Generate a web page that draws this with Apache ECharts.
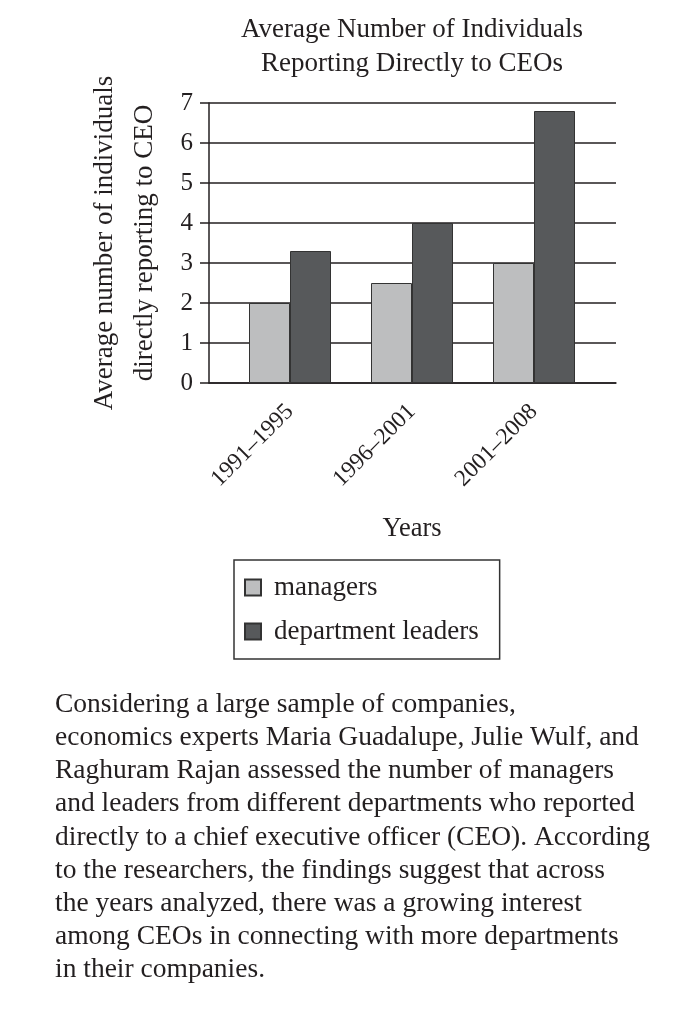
<!DOCTYPE html>
<html>
<head>
<meta charset="utf-8">
<script src="https://cdn.jsdelivr.net/npm/echarts@6/dist/echarts.min.js"></script>
<style>
  html, body { margin: 0; padding: 0; background: #fff; }
  #chart { width: 684px; height: 1024px; }
</style>
</head>
<body>
<div id="chart"></div>
<script>
const categories = ['1991\u20131995', '1996\u20132001', '2001\u20132008'];
const managers = [2, 2.5, 3];
const departmentLeaders = [3.3, 4, 6.8];
const yTicks = [0, 1, 2, 3, 4, 5, 6, 7];

const paragraph = [
  'Considering a large sample of companies,',
  'economics experts Maria Guadalupe, Julie Wulf, and',
  'Raghuram Rajan assessed the number of managers',
  'and leaders from different departments who reported',
  'directly to a chief executive officer (CEO). According',
  'to the researchers, the findings suggest that across',
  'the years analyzed, there was a growing interest',
  'among CEOs in connecting with more departments',
  'in their companies.'
];

const font = '"Liberation Serif", "DejaVu Serif", serif';
const ink = '#231f20';

const chart = echarts.init(document.getElementById('chart'));

chart.setOption({
  backgroundColor: '#fff',
  textStyle: { fontFamily: font, color: ink },
  title: {
    text: paragraph.join('\n'),
    left: 55,
    top: 688,
    padding: 0,
    textStyle: { fontFamily: font, fontSize: 27.5, fontWeight: 'normal', color: ink, lineHeight: 33.2 }
  },
  graphic: [{
    type: 'text',
    x: 412,
    y: 13,
    style: {
      text: 'Average Number of Individuals\nReporting Directly to CEOs',
      fill: ink,
      font: '27px ' + font,
      lineHeight: 34,
      align: 'center'
    }
  }],
  legend: {
    orient: 'vertical',
    left: 234,
    top: 560,
    padding: [14, 21, 14, 10],
    itemGap: 17,
    itemWidth: 16,
    itemHeight: 16,
    borderColor: '#333',
    borderWidth: 1.5,
    icon: 'rect',
    textStyle: { fontFamily: font, fontSize: 27, color: ink, padding: [0, 0, 0, 8] },
    data: ['managers', 'department leaders']
  },
  grid: [
    { left: 209, right: 68, top: 103, bottom: 641 },
    { left: 229, right: 89, top: 103, bottom: 641 }
  ],
  xAxis: [{
    gridIndex: 0,
    type: 'category',
    data: [''],
    axisLine: { show: true, lineStyle: { color: ink, width: 1.5 } },
    axisTick: { show: false },
    axisLabel: { show: false },
    splitLine: { show: false }
  }, {
    gridIndex: 1,
    type: 'category',
    data: categories,
    axisLine: { show: false },
    axisTick: { show: false },
    axisLabel: { rotate: 45, margin: 25, fontFamily: font, fontSize: 23.5, color: ink },
    name: 'Years',
    nameLocation: 'middle',
    nameGap: 133,
    nameTextStyle: { fontFamily: font, fontSize: 26.5, color: ink }
  }],
  yAxis: [{
    gridIndex: 0,
    type: 'value',
    min: yTicks[0],
    max: yTicks[yTicks.length - 1],
    interval: 1,
    axisLine: { show: true, lineStyle: { color: ink, width: 1.5 } },
    axisTick: { show: true, inside: false, length: 9, lineStyle: { color: ink, width: 1.5 } },
    axisLabel: { margin: 16, fontFamily: font, fontSize: 25, color: ink },
    splitLine: { show: true, lineStyle: { color: ink, width: 1.5 } },
    name: 'Average number of individuals\ndirectly reporting to CEO',
    nameLocation: 'middle',
    nameGap: 44,
    nameTextStyle: { fontFamily: font, fontSize: 27, color: ink, lineHeight: 40 }
  }, {
    gridIndex: 1,
    type: 'value',
    min: yTicks[0],
    max: yTicks[yTicks.length - 1],
    interval: 1,
    show: false
  }],
  series: [{
    name: 'managers',
    type: 'bar',
    xAxisIndex: 1,
    yAxisIndex: 1,
    barWidth: 41,
    barGap: '0%',
    data: managers,
    itemStyle: { color: '#bdbebf', borderColor: '#333', borderWidth: 1 }
  }, {
    name: 'department leaders',
    type: 'bar',
    xAxisIndex: 1,
    yAxisIndex: 1,
    barWidth: 41,
    barGap: '0%',
    data: departmentLeaders,
    itemStyle: { color: '#57595b', borderColor: '#333', borderWidth: 1 }
  }]
});
</script>
</body>
</html>
